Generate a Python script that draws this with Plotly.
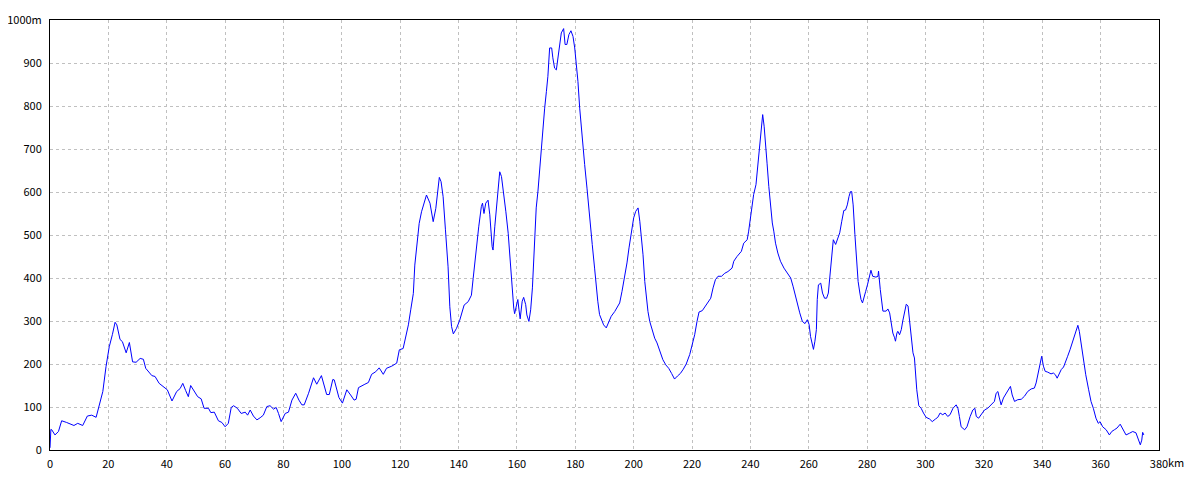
import plotly.graph_objects as go

distance_km = [
    0, 0.3, 0.6, 1.7, 2.9, 4.0, 5.7, 7.1, 8.2, 9.5, 11.2, 12.8, 14.3, 15.8, 16.8, 18.1, 19.2, 20.3, 21.4, 22.3,
    22.9, 24.0, 24.8, 26.1, 27.2, 28.3, 29.5, 30.9, 32.0, 32.8, 34.9, 36.0, 37.4, 38.9, 40.2, 41.8, 43.4, 44.6,
    45.5, 46.5, 47.4, 48.2, 49.7, 50.6, 51.8, 52.8, 54.3, 55.1, 56.3, 57.7, 58.9, 60.0, 61.1, 62.1, 62.9, 64.2,
    65.5, 66.9, 67.7, 68.6, 69.7, 70.9, 72.0, 73.1, 74.3, 75.4, 76.6, 77.5, 78.3, 79.2, 80.6, 81.7, 82.9, 84.2,
    85.3, 86.3, 87.1, 88.6, 90.3, 91.4, 93.0, 94.8, 95.7, 96.9, 97.4, 99.0, 100.2, 101.7, 103.0, 104.2, 104.9,
    105.7, 107.9, 109.1, 110.2, 111.6, 112.8, 114.2, 115.3, 117.1, 118.8, 119.7, 121.0, 122.0, 122.8, 123.6,
    124.5, 125.0, 125.6, 126.5, 127.3, 128.1, 129.0, 130.2, 131.3, 132.2, 133.4, 134.0, 134.7, 135.5, 136.4,
    137.0, 137.6, 138.2, 139.3, 140.4, 141.9, 143.3, 144.4, 145.0, 145.6, 146.1, 146.9, 147.8, 148.2, 148.7,
    149.3, 150.1, 150.7, 151.5, 151.8, 152.4, 153.3, 154.1, 154.7, 155.5, 156.2, 157.0, 157.5, 158.4, 158.9,
    159.2, 159.8, 160.3, 160.7, 161.1, 161.8, 162.3, 163.0, 163.4, 164.1, 164.7, 165.3, 166.1, 166.6, 167.2,
    167.8, 168.3, 168.9, 169.5, 170.1, 170.6, 171.2, 171.9, 172.3, 172.9, 173.5, 174.1, 174.6, 175.2, 176.0,
    176.5, 177.1, 177.8, 178.5, 179.2, 179.8, 180.3, 180.9, 181.5, 182.1, 182.6, 183.2, 184.0, 184.6, 185.1,
    185.8, 186.6, 187.2, 187.7, 188.3, 188.9, 189.7, 190.6, 191.5, 192.3, 193.5, 194.3, 195.2, 196.0, 196.9,
    197.7, 198.4, 199.2, 200.0, 200.7, 201.5, 202.1, 202.6, 203.2, 203.8, 204.3, 204.9, 205.5, 206.4, 207.2,
    208.0, 208.9, 210.0, 211.0, 212.0, 213.0, 214.0, 215.0, 216.0, 217.0, 218.0, 219.2, 220.1, 220.9, 221.7,
    222.4, 223.5, 224.9, 226.4, 227.2, 228.0, 228.9, 230.1, 231.2, 232.3, 233.7, 234.3, 235.4, 236.9, 237.7,
    238.9, 239.4, 240.0, 240.6, 241.1, 241.9, 242.5, 243.1, 243.7, 244.2, 244.7, 245.2, 245.7, 246.3, 246.9,
    247.5, 248.0, 248.6, 249.4, 250.3, 251.5, 252.6, 253.8, 254.6, 255.3, 256.1, 256.9, 257.8, 258.7, 259.5,
    260.1, 260.6, 261.2, 261.6, 262.1, 262.6, 262.9, 263.3, 264.1, 264.7, 265.4, 266.1, 266.7, 267.3, 267.9,
    268.4, 269.2, 269.8, 270.6, 271.3, 272.0, 272.6, 273.2, 273.8, 274.3, 274.7, 275.2, 275.8, 276.3, 276.9,
    277.5, 277.9, 278.4, 278.9, 279.5, 280.1, 280.7, 281.3, 281.9, 283.0, 283.7, 283.9, 284.5, 285.4, 286.5,
    287.1, 287.7, 288.3, 288.8, 289.4, 289.7, 290.2, 290.5, 291.1, 291.7, 292.2, 292.8, 293.4, 294.0, 294.5,
    295.1, 295.7, 296.2, 296.6, 297.0, 297.7, 298.5, 299.3, 300.2, 301.4, 302.3, 303.4, 304.2, 305.0, 305.9,
    306.7, 307.6, 308.4, 309.4, 310.5, 311.1, 311.6, 312.2, 313.4, 314.2, 315.3, 316.2, 316.9, 317.4, 318.2,
    319.1, 320.2, 321.3, 322.5, 323.6, 324.2, 324.8, 325.3, 325.9, 326.7, 327.6, 328.5, 329.1, 329.7, 330.5,
    331.6, 332.8, 333.9, 335.0, 336.2, 337.3, 337.9, 338.5, 339.0, 339.8, 340.4, 341.0, 341.9, 343.0, 343.8,
    344.5, 345.1, 345.7, 346.5, 347.3, 348.0, 348.7, 349.5, 350.5, 351.4, 352.2, 352.7, 353.3, 354.1, 354.9,
    355.9, 356.7, 357.5, 358.4, 359.2, 359.8, 360.7, 361.9, 363.0, 363.8, 364.7, 365.6, 366.7, 367.6, 368.7,
    369.9, 371.0, 372.1, 372.7, 373.6, 374.1, 374.4, 374.8,
]

elevation_m = [
    5, 48, 47, 35, 43, 68, 64, 60, 57, 62, 57, 79, 81, 76, 101, 136, 194, 240, 269, 297,
    291, 257, 252, 226, 250, 205, 204, 213, 211, 190, 173, 171, 155, 147, 140, 114, 136, 143,
    155, 138, 124, 150, 132, 124, 119, 97, 97, 87, 88, 68, 64, 54, 62, 99, 103, 97,
    85, 88, 81, 93, 79, 70, 75, 81, 101, 103, 95, 99, 85, 66, 85, 88, 116, 132,
    116, 105, 105, 132, 168, 153, 173, 129, 129, 164, 163, 122, 109, 140, 128, 116, 118,
    145, 153, 157, 176, 182, 191, 176, 190, 195, 202, 233, 236, 264, 291, 326,
    364, 430, 465, 527, 554, 574, 593, 574, 531, 562, 634, 624, 589, 512, 426,
    333, 287, 270, 283, 302, 337, 345, 360, 399, 438, 473, 519, 566, 574, 550,
    574, 581, 547, 473, 465, 519, 597, 647, 636, 597, 554, 504, 454, 377, 330,
    317, 338, 350, 326, 305, 346, 355, 338, 314, 299, 326, 377, 485, 563, 602,
    656, 702, 733, 795, 834, 869, 935, 935, 912, 888, 884, 912, 943, 970, 980,
    943, 943, 966, 975, 962, 935, 904, 857, 795, 745, 702, 664, 609, 563, 516,
    478, 423, 377, 346, 315, 303, 291, 284, 299, 311, 322, 332, 342, 369, 400,
    435, 470, 508, 540, 555, 563, 532, 501, 454, 392, 353, 322, 299, 280, 260,
    249, 229, 210, 198, 190, 178, 165, 172, 178, 188, 200, 222, 245, 268, 299,
    321, 324, 338, 353, 377, 396, 404, 404, 411, 415, 423, 439, 450, 462, 481,
    489, 509, 543, 574, 594, 617, 660, 691, 745, 780, 753, 698, 667, 613, 559,
    528, 509, 481, 458, 439, 423, 412, 400, 381, 361, 342, 319, 299, 294, 303,
    292, 264, 245, 234, 253, 280, 350, 384, 388, 365, 353, 353, 365, 412, 466,
    489, 478, 491, 505, 532, 557, 558, 570, 590, 601, 601, 570, 501, 446, 392,
    365, 350, 342, 357, 369, 384, 404, 418, 404, 402, 404, 416, 373, 323, 323,
    328, 319, 296, 272, 261, 253, 272, 276, 268, 280, 300, 323, 339, 335, 304,
    268, 226, 214, 175, 140, 103, 97, 86, 76, 72, 66, 72, 76, 86, 82,
    86, 78, 82, 97, 105, 97, 78, 54, 47, 54, 78, 93, 97, 78, 74,
    82, 93, 97, 105, 113, 132, 136, 121, 105, 121, 132, 144, 148, 128, 113,
    117, 118, 125, 136, 142, 144, 156, 175, 195, 218, 195, 183, 181, 177, 179,
    175, 167, 177, 187, 193, 204, 218, 233, 253, 272, 290, 276, 245, 210, 175,
    140, 113, 97, 74, 62, 66, 54, 47, 35, 43, 47, 51, 60, 47, 35,
    39, 43, 40, 27, 12, 23, 41, 35,
]

x_tick_vals = [0, 20, 40, 60, 80, 100, 120, 140, 160, 180, 200, 220, 240, 260, 280, 300, 320, 340, 360, 380]
x_tick_text = ["0", "20", "40", "60", "80", "100", "120", "140", "160", "180", "200", "220", "240",
               "260", "280", "300", "320", "340", "360", "380"]
y_tick_vals = [0, 100, 200, 300, 400, 500, 600, 700, 800, 900, 1000]
y_tick_text = ["0", "100", "200", "300", "400", "500", "600", "700", "800", "900", "1000m"]

FONT = "Noto Sans CJK JP"
FSIZE = 11

fig = go.Figure()
fig.add_trace(go.Scatter(
    x=distance_km, y=elevation_m, mode="lines",
    line=dict(color="#0000ff", width=1),
    hoverinfo="skip", showlegend=False,
))

# page body has an 8px margin, so the figure is sized to fit 1200x480 exactly
fig.update_layout(
    width=1184, height=464,
    margin=dict(l=42, r=33, t=12, b=22, autoexpand=False),
    paper_bgcolor="white", plot_bgcolor="white",
    font=dict(family=FONT, size=FSIZE, color="black"),
    showlegend=False,
)
fig.update_xaxes(
    range=[0, 380], tickmode="array", tickvals=x_tick_vals, ticktext=x_tick_text,
    showgrid=True, gridcolor="#c0c0c0", gridwidth=1, griddash="3px,3px",
    showline=True, linecolor="black", linewidth=1, mirror=True,
    ticks="", ticklabelstandoff=4, zeroline=False, automargin=False,
    tickfont=dict(family=FONT, size=FSIZE, color="black"),
)
fig.update_yaxes(
    range=[0, 1000], tickmode="array", tickvals=y_tick_vals, ticktext=y_tick_text,
    showgrid=True, gridcolor="#c0c0c0", gridwidth=1, griddash="3px,3px",
    showline=True, linecolor="black", linewidth=1, mirror=True,
    ticks="", ticklabelstandoff=5, zeroline=False, automargin=False,
    tickfont=dict(family=FONT, size=FSIZE, color="black"),
)
fig.add_annotation(
    x=380, xref="x", y=0, yref="paper", text="km", showarrow=False,
    xanchor="left", yanchor="top", xshift=7, yshift=-2,
    font=dict(family=FONT, size=FSIZE, color="black"),
)

fig.write_html("out.html")
